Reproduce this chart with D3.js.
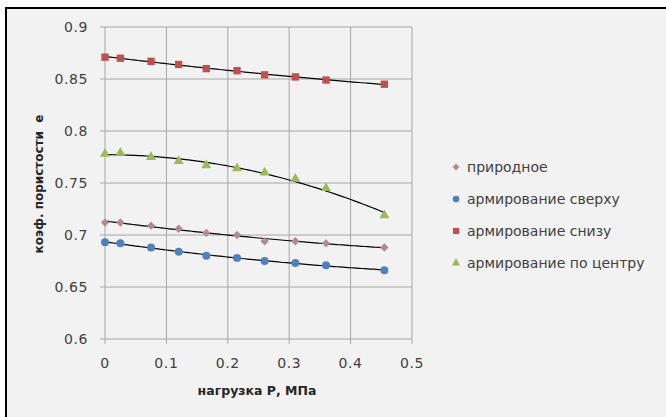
<!DOCTYPE html>
<html>
<head>
  <meta charset="UTF-8">
  <style>
    body { margin: 0; background: #fff; }
    text { font-family: "DejaVu Sans", Verdana, sans-serif; }
  </style>
</head>
<body>
<svg></svg>
<script src="https://d3js.org/d3.v7.min.js"></script>
<script>

let width = 666, height = 417;

// Data
let load = [0, 0.025, 0.075, 0.12, 0.165, 0.215, 0.26, 0.31, 0.36, 0.455];
let natural = [0.712, 0.712, 0.709, 0.706, 0.702, 0.700, 0.694, 0.694, 0.692, 0.688];
let reinfTop = [0.693, 0.692, 0.688, 0.684, 0.680, 0.678, 0.675, 0.673, 0.671, 0.666];
let reinfBottom = [0.871, 0.870, 0.867, 0.864, 0.860, 0.858, 0.854, 0.852, 0.849, 0.845];
let reinfCenter = [0.778, 0.779, 0.775, 0.771, 0.767, 0.764, 0.760, 0.754, 0.745, 0.719];

let seriesNames = ["природное", "армирование сверху", "армирование снизу", "армирование по центру"];
let xTicks = [0, 0.1, 0.2, 0.3, 0.4, 0.5];
let yTicks = [0.6, 0.65, 0.7, 0.75, 0.8, 0.85, 0.9];

let series = [
    {name: seriesNames[0], values: natural, color: "#b48b8c", symbol: d3.symbolDiamond2, size: 44},
    {name: seriesNames[1], values: reinfTop, color: "#4f81bd", symbol: d3.symbolCircle, size: 50},
    {name: seriesNames[2], values: reinfBottom, color: "#c0504d", symbol: d3.symbolSquare, size: 54},
    {name: seriesNames[3], values: reinfCenter, color: "#9bbb59", symbol: d3.symbolTriangle, size: 44}
];

let svg = d3.select("svg")
    .attr("width", width)
    .attr("height", height);

// chart frame
svg.append("rect")
    .attr("x", 6).attr("y", 8)
    .attr("width", width + 10).attr("height", height + 10)
    .attr("fill", "#f2f2f2")
    .attr("stroke", "#000")
    .attr("stroke-width", 2);

let x = d3.scaleLinear().domain([0, 0.5]).range([105, 412]);
let y = d3.scaleLinear().domain([0.6, 0.9]).range([339, 27]);

// grid
let grid = svg.append("g");
grid.selectAll(".gx").data(xTicks).enter().append("line")
    .attr("x1", d => x(d)).attr("x2", d => x(d))
    .attr("y1", y(0.9)).attr("y2", y(0.6) + 5)
    .attr("stroke", "#a6a6a6").attr("stroke-width", 1);
grid.selectAll(".gy").data(yTicks).enter().append("line")
    .attr("x1", x(0) - 5).attr("x2", x(0.5))
    .attr("y1", d => y(d)).attr("y2", d => y(d))
    .attr("stroke", "#a6a6a6").attr("stroke-width", 1);

// tick labels
svg.append("g").selectAll("text").data(yTicks).enter().append("text")
    .attr("x", 88).attr("y", d => y(d))
    .attr("dy", "0.35em")
    .attr("text-anchor", "end")
    .attr("font-size", 14)
    .attr("letter-spacing", 0.6)
    .attr("fill", "#404040")
    .text(d => d);

svg.append("g").selectAll("text").data(xTicks).enter().append("text")
    .attr("x", d => x(d)).attr("y", 363)
    .attr("dy", "0.35em")
    .attr("text-anchor", "middle")
    .attr("font-size", 14)
    .attr("letter-spacing", 0.6)
    .attr("fill", "#404040")
    .text(d => d);

// axis titles
svg.append("text")
    .attr("x", 257).attr("y", 391)
    .attr("dy", "0.35em")
    .attr("text-anchor", "middle")
    .attr("font-size", 12.5)
    .attr("font-weight", "bold")
    .attr("fill", "#262626")
    .text("нагрузка Р, МПа");

svg.append("text")
    .attr("transform", "translate(39,184) rotate(-90)")
    .attr("dy", "0.35em")
    .attr("text-anchor", "middle")
    .attr("font-size", 12)
    .attr("font-weight", "bold")
    .attr("fill", "#262626")
    .attr("xml:space", "preserve")
    .text("коэф. пористости  е");

// least squares polynomial trendline (like Excel)
function polyFit(xs, ys, deg) {
    let n = deg + 1;
    let A = [];
    for (let i = 0; i < n; i++) {
        A.push([]);
        for (let j = 0; j <= n; j++) A[i].push(0);
    }
    xs.forEach((xv, k) => {
        for (let i = 0; i < n; i++) {
            for (let j = 0; j < n; j++) A[i][j] += Math.pow(xv, i + j);
            A[i][n] += Math.pow(xv, i) * ys[k];
        }
    });
    for (let i = 0; i < n; i++) {
        for (let r = i + 1; r < n; r++) {
            let f = A[r][i] / A[i][i];
            for (let j = i; j <= n; j++) A[r][j] -= f * A[i][j];
        }
    }
    let c = new Array(n).fill(0);
    for (let i = n - 1; i >= 0; i--) {
        let s = A[i][n];
        for (let j = i + 1; j < n; j++) s -= A[i][j] * c[j];
        c[i] = s / A[i][i];
    }
    return xv => c.reduce((acc, ci, i) => acc + ci * Math.pow(xv, i), 0);
}

let line = d3.line().x(d => x(d[0])).y(d => y(d[1]));

series.forEach(s => {
    let f = polyFit(load, s.values, 2);
    let pts = d3.range(0, 101).map(i => {
        let xv = load[0] + (load[load.length - 1] - load[0]) * i / 100;
        return [xv, f(xv)];
    });
    svg.append("path")
        .attr("d", line(pts))
        .attr("fill", "none")
        .attr("stroke", "#000")
        .attr("stroke-width", 1.2);
});

series.forEach(s => {
    svg.append("g").selectAll("path")
        .data(s.values)
        .enter().append("path")
        .attr("d", d3.symbol().type(s.symbol).size(s.size))
        .attr("transform", (d, i) => "translate(" + x(load[i]) + "," + y(d) + ")")
        .attr("fill", s.color);
});

// legend
let legend = svg.append("g");
let legendY = [167, 199, 231, 263];
series.forEach((s, i) => {
    legend.append("path")
        .attr("d", d3.symbol().type(s.symbol).size(s.size * 0.7))
        .attr("transform", "translate(456," + legendY[i] + ")")
        .attr("fill", s.color);
    legend.append("text")
        .attr("x", 467).attr("y", legendY[i])
        .attr("dy", "0.35em")
        .attr("font-size", 14)
        .attr("fill", "#404040")
        .text(s.name);
});

</script>
</body>
</html>
